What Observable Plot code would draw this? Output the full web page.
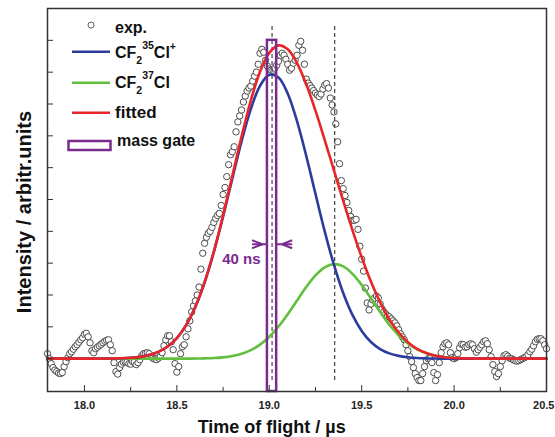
<!DOCTYPE html>
<html><head><meta charset="utf-8">
<script src="https://cdn.jsdelivr.net/npm/d3@7"></script>
<script src="https://cdn.jsdelivr.net/npm/@observablehq/plot@0.6"></script>
<style>body{margin:0;background:#fff} svg{display:block}</style>
</head><body><div id="chart"></div>
<script>
// Experimental trace: sampled every 10 ns from 17.80 µs (arbitrary intensity units, baseline = 0)
const expStart = 17.80, expStep = 0.01;
const expValues = [
  5,0,-5,-9,-11.5,-13,-14.5,-15,-14,-8,
  -3,1,5,7,9.5,12,14,16.5,19,21,
  24.5,25.5,22,16,8,6,10,11.5,13,14.5,
  16,17.5,18.5,19,14,8,-4,-13,-15.5,-9,
  -5.5,-3.5,-3,-3.5,-5,-5.5,-3,-3.5,-6,-4,
  -1,3,5,5.5,6,5,2,0.5,-0.5,-1,
  0.5,2,6,13,19,23,23,17,9,-5,
  -13.5,-8,5,12,14,22,30,38,47,53,
  58,64,72,90,106,116,122,126,128,132,
  137,141,144,146,154,165,172,183,195,205,
  208,213,228,238,244,250,258,264,269,272,
  274,279,284,288,296,307,311,308,300,294,
  291,290,290,292,295,299,305,307,305,301,
  296,290,292,297,300,305,315,319,310,296,
  281,277,274.5,272,269.5,267,265,263.5,266,271,
  275,276.5,272,262,255,248,236,218,196,179,
  171,164,157,149,143,139,139,140,130,113,
  100,88,71,56,49,55,59,61,63,61,
  55,50,47,45,43,42,40,38,36,33,
  29,25,22,19,14,8,2,-3,-9,-15,
  -19,-22,-22,-15,-8,-2,0,0,-4,-14,
  -22,-16,-4,6,12,15,16,14,6,1,
  0,1,5,11,14.5,14,11.5,12,14,15,
  14,10,6.5,9,11.5,14,17,18,15,9,
  2,-6,-13,-18,-15,-8,-2,3,4,2.5,
  0.5,0,-1,-2,-2.5,-2,-1,0,1,2,
  4,7,9.5,13,17,19.5,20,20,18,14,
  10
];

// Fitted components
const curveTimes = [
  17.80,17.85,17.90,17.95,18.00,18.05,18.10,18.15,18.20,18.25,
  18.30,18.35,18.40,18.45,18.50,18.55,18.60,18.65,18.70,18.75,
  18.80,18.85,18.90,18.95,19.00,19.05,19.10,19.15,19.20,19.25,
  19.30,19.35,19.40,19.45,19.50,19.55,19.60,19.65,19.70,19.75,
  19.80,19.85,19.90,19.95,20.00,20.05,20.10,20.15,20.20,20.25,
  20.30,20.35,20.40,20.45,20.50
];
const blueValues = [
  0,0,0,0,0,0,0,0.2,0.4,0.9,
  1.8,3.6,6.8,12.2,20.7,33.7,52.1,76.6,107.2,142.8,
  181.0,218.4,250.9,274.3,285.4,282.6,266.3,238.8,203.9,165.6,
  128.0,94.2,66.0,44.0,27.9,16.8,9.7,5.3,2.8,1.4,
  0.6,0.3,0.1,0,0,0,0,0,0,0,
  0,0,0,0,0
];
const greenValues = [
  0,0,0,0,0,0,0,0,0,0,
  0,0,0,0,0,0,0.1,0.3,0.6,1.3,
  2.6,4.9,8.6,14.1,22.0,32.3,44.7,58.4,72.0,83.7,
  91.8,95.0,92.7,85.3,74.1,60.7,46.9,34.1,23.5,15.2,
  9.3,5.4,2.9,1.5,0.7,0.3,0.1,0,0,0,
  0,0,0,0,0
];
const redValues = [
  0,0,0,0,0,0,0,0.2,0.4,0.9,
  1.8,3.6,6.8,12.2,20.7,33.7,52.2,76.9,107.8,144.1,
  183.6,223.3,259.5,288.4,307.4,314.9,311.0,297.2,275.9,249.3,
  219.8,189.2,158.7,129.3,102.0,77.5,56.6,39.4,26.3,16.6,
  9.9,5.7,3.0,1.5,0.7,0.3,0.1,0,0,0,
  0,0,0,0,0
];

const xMajorTicks = [18.0, 18.5, 19.0, 19.5, 20.0, 20.5];
const xMinorTicks = [18.25, 18.75, 19.25, 19.75, 20.25];
const yTicks = [0, 32, 64, 96, 128, 160, 192, 224, 256, 288, 320];
const peakLines = [19.015, 19.354];
const gateX = [18.99, 19.04];
const gateTop = 320;
const gateLabel = "40 ns";
const gateArrowY = 115;

const C = {blue: "#2b3c9e", green: "#62bf3c", red: "#e8262a", purple: "#7b2b8d", exp: "#3a3a3a"};

const expData = expValues.map((v, i) => ({t: expStart + i * expStep, v}));
const curveData = (vals) => curveTimes.map((t, i) => ({t, v: vals[i]}));

const yMin = -33, yMax = 352;
const arrowSegs = [
  {x1: 18.907, y1: gateArrowY, x2: gateX[0], y2: gateArrowY},
  {x1: 18.907, y1: gateArrowY + 4, x2: 18.963, y2: gateArrowY},
  {x1: 18.907, y1: gateArrowY - 4, x2: 18.963, y2: gateArrowY},
  {x1: gateX[1], y1: gateArrowY, x2: 19.124, y2: gateArrowY},
  {x1: 19.124, y1: gateArrowY + 4, x2: 19.069, y2: gateArrowY},
  {x1: 19.124, y1: gateArrowY - 4, x2: 19.069, y2: gateArrowY}
];

const svg = Plot.plot({
  width: 555, height: 437,
  marginLeft: 47, marginRight: 9, marginTop: 8, marginBottom: 46,
  x: {domain: [17.8, 20.5]},
  y: {domain: [yMin, yMax]},
  style: {fontFamily: "'Liberation Sans', Arial, sans-serif", background: "white", color: "#222"},
  marks: [
    Plot.dot(expData, {x: "t", y: "v", r: 3.2, stroke: C.exp, fill: "white", strokeWidth: 0.9}),
    Plot.ruleX(peakLines, {x: d => d, y1: -22, y2: 335, stroke: "#333", strokeWidth: 1.1, strokeDasharray: "4,3"}),
    Plot.line(curveData(greenValues), {x: "t", y: "v", stroke: C.green, strokeWidth: 2.6, curve: "catmull-rom"}),
    Plot.line(curveData(blueValues), {x: "t", y: "v", stroke: C.blue, strokeWidth: 2.6, curve: "catmull-rom"}),
    Plot.line(curveData(redValues), {x: "t", y: "v", stroke: C.red, strokeWidth: 2.6, curve: "catmull-rom"}),
    Plot.rect([{x1: gateX[0], x2: gateX[1]}], {x1: "x1", x2: "x2", y1: yMin, y2: gateTop, fill: "none", stroke: C.purple, strokeWidth: 2.5}),
    Plot.link(arrowSegs, {x1: "x1", y1: "y1", x2: "x2", y2: "y2", stroke: C.purple, strokeWidth: 2}),
    Plot.text([gateLabel], {x: 18.953, y: 100, text: d => d, textAnchor: "end", fill: C.purple, fontSize: 15, fontWeight: "bold"}),
    Plot.axisX(xMajorTicks, {tickSize: -6, tickFormat: () => "", label: null, stroke: "#333"}),
    Plot.axisX(xMinorTicks, {tickSize: -4, tickFormat: () => "", label: null, stroke: "#333"}),
    Plot.axisX(xMajorTicks.slice(0, -1), {tickSize: 0, tickPadding: 10, tickFormat: d3.format(".1f"), fontSize: 11, fontWeight: "bold", label: null, fill: "#222"}),
    Plot.axisX(xMajorTicks.slice(-1), {tickSize: 0, tickPadding: 10, tickFormat: d3.format(".1f"), fontSize: 11, fontWeight: "bold", label: null, fill: "#222", textAnchor: "end", dx: 8}),
    Plot.axisY(yTicks, {tickSize: -6, tickFormat: () => "", label: null, stroke: "#333"}),
    Plot.frame({stroke: "#333", strokeWidth: 1.5})
  ]
});

const s = d3.select(svg);
const font = "'Liberation Sans', Arial, sans-serif";
// axis titles
s.append("text").attr("x", 271.7).attr("y", 433).attr("text-anchor", "middle")
  .attr("font-family", font).attr("font-size", 18).attr("font-weight", "bold").attr("fill", "#111")
  .text("Time of flight / µs");
s.append("text").attr("transform", "translate(31,212) rotate(-90)").attr("text-anchor", "middle")
  .attr("font-family", font).attr("font-size", 20).attr("font-weight", "bold").attr("fill", "#111")
  .text("Intensity / arbitr.units");

// legend
const lg = s.append("g").attr("font-family", font).attr("font-weight", "bold").attr("fill", "#111").attr("text-anchor", "start");
lg.append("circle").attr("cx", 91).attr("cy", 25).attr("r", 3).attr("fill", "white").attr("stroke", C.exp).attr("stroke-width", 0.8);
lg.append("text").attr("x", 115).attr("y", 32.5).attr("font-size", 16).text("exp.");
lg.append("line").attr("x1", 72).attr("x2", 110).attr("y1", 51.7).attr("y2", 51.7).attr("stroke", C.blue).attr("stroke-width", 2.6);
const t1 = lg.append("text").attr("x", 115).attr("y", 57.5).attr("font-size", 16);
t1.append("tspan").text("CF");
t1.append("tspan").attr("font-size", 10.5).attr("dy", 6).text("2");
t1.append("tspan").attr("font-size", 10.5).attr("dy", -15).text("35");
t1.append("tspan").attr("dy", 9).text("Cl");
t1.append("tspan").attr("font-size", 10.5).attr("dy", -8).text("+");
lg.append("line").attr("x1", 72).attr("x2", 110).attr("y1", 82.7).attr("y2", 82.7).attr("stroke", C.green).attr("stroke-width", 2.6);
const t2 = lg.append("text").attr("x", 115).attr("y", 88.3).attr("font-size", 16);
t2.append("tspan").text("CF");
t2.append("tspan").attr("font-size", 10.5).attr("dy", 6).text("2");
t2.append("tspan").attr("font-size", 10.5).attr("dy", -15).text("37");
t2.append("tspan").attr("dy", 9).text("Cl");
lg.append("line").attr("x1", 72).attr("x2", 110).attr("y1", 112.7).attr("y2", 112.7).attr("stroke", C.red).attr("stroke-width", 2.6);
lg.append("text").attr("x", 115).attr("y", 118.3).attr("font-size", 17).text("fitted");
lg.append("rect").attr("x", 68.5).attr("y", 141).attr("width", 42).attr("height", 9).attr("fill", "none").attr("stroke", C.purple).attr("stroke-width", 2.5);
lg.append("text").attr("x", 117).attr("y", 146).attr("font-size", 16).text("mass gate");

document.getElementById("chart").appendChild(svg);
</script>
</body></html>
